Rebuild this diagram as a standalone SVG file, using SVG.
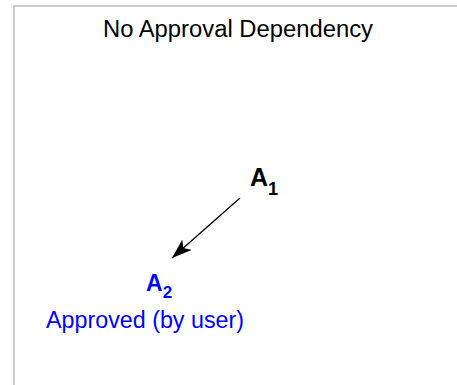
<svg xmlns="http://www.w3.org/2000/svg" width="457" height="385" viewBox="0 0 457 385">
<style>
.t{font-family:"Liberation Sans",Arial,sans-serif}
.blk{fill:#000}
.blu{fill:#0000ff}
.b{font-weight:bold}
</style>
<defs>
<marker id="ah" markerWidth="20" markerHeight="14" refX="20" refY="7" orient="auto" markerUnits="userSpaceOnUse">
<path d="M0,0 L20,7 L0,14 L5,7 Z" fill="#000"/>
</marker>
</defs>
<rect width="457" height="385" fill="#fff"/>
<rect x="14" y="6" width="460" height="400" fill="none" stroke="#cccccc" stroke-width="2"/>
<text class="t blk" x="103" y="37" font-size="23.5" textLength="270" lengthAdjust="spacingAndGlyphs">No Approval Dependency</text>
<g id="connectors">
<line x1="240" y1="198" x2="172" y2="258" stroke="#000" stroke-width="1.3" marker-end="url(#ah)"/>
</g>
<g id="A1">
<text class="t blk b" x="250" y="186" font-size="25">A<tspan font-size="18" dy="9">1</tspan></text>
</g>
<g id="A2">
<text class="t blu b" x="146" y="291" font-size="23">A<tspan font-size="17" dy="7">2</tspan></text>
<text class="t blu" x="46" y="328" font-size="23.3" textLength="198" lengthAdjust="spacingAndGlyphs">Approved (by user)</text>
</g>
</svg>
